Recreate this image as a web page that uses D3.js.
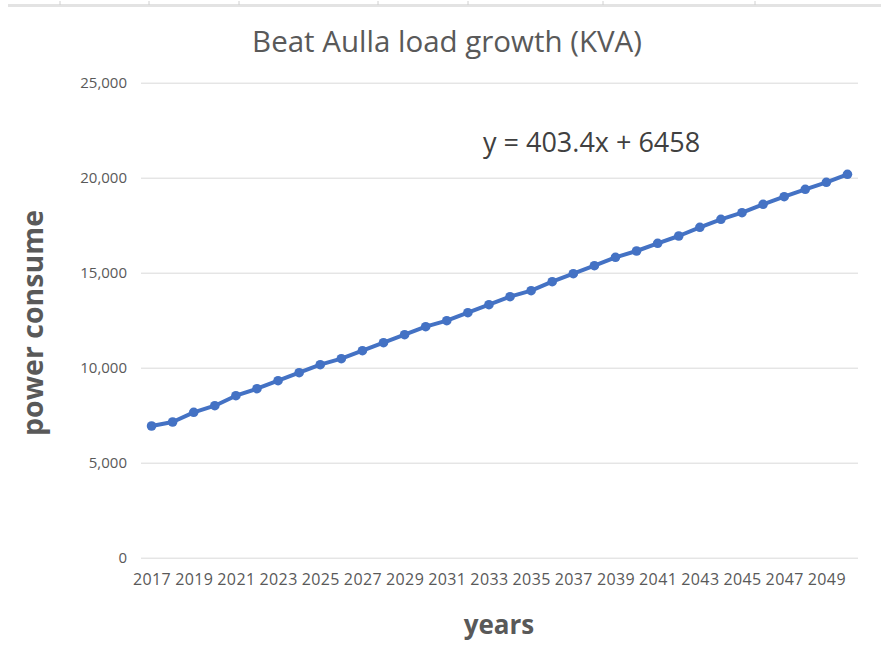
<!DOCTYPE html>
<html>
<head>
<meta charset="utf-8">
<script src="https://cdn.jsdelivr.net/npm/d3@7"></script>
<style>
  html, body { margin: 0; padding: 0; background: #fff; }
  svg { display: block; font-family: "Open Sans", "Noto Sans", sans-serif; }
</style>
</head>
<body>
<svg id="chart" width="881" height="662"></svg>
<script>
// Annual load (KVA) for the Beat Aulla feeder, 2017–2050
const years = d3.range(2017, 2051);
const load = [
  6931, 7142, 7652, 8000, 8526, 8895, 9316, 9737, 10158, 10474,
  10895, 11316, 11737, 12158, 12474, 12895, 13316, 13737, 14053, 14526,
  14947, 15368, 15810, 16142, 16547, 16931, 17389, 17810, 18158, 18600,
  19000, 19389, 19758, 20179
];
const yTicks = [0, 5000, 10000, 15000, 20000, 25000];
const xTickYears = years.filter((y, i) => i % 2 === 0);
const titleText = "Beat Aulla load growth (KVA)";
const trendText = "y = 403.4x + 6458";
const xTitle = "years";
const yTitle = "power consume";
const sheetColumnEdges = [60, 149, 239, 378, 468, 603, 755];

const svg = d3.select("#chart");
const plot = { left: 141, right: 858, top: 82.7, bottom: 557.7 };

// faint worksheet edge above the chart
svg.append("rect").attr("x", 8).attr("y", 4).attr("width", 873).attr("height", 3).attr("fill", "#e3e3e3");
svg.selectAll("line.col").data(sheetColumnEdges).join("line")
  .attr("x1", d => d).attr("x2", d => d).attr("y1", 1).attr("y2", 5)
  .attr("stroke", "#d0d0d0").attr("stroke-width", 1);

const x = d3.scalePoint().domain(years).range([plot.left, plot.right]).padding(0.5);
const y = d3.scaleLinear().domain([0, 25000]).range([plot.bottom, plot.top]);

// horizontal gridlines
svg.append("g").selectAll("line").data(yTicks).join("line")
  .attr("x1", plot.left).attr("x2", plot.right)
  .attr("y1", d => y(d) + 0.5).attr("y2", d => y(d) + 0.5)
  .attr("stroke", "#d9d9d9").attr("stroke-width", 1);

// y axis labels
const yAxis = d3.axisLeft(y).tickValues(yTicks).tickSize(0).tickPadding(0)
  .tickFormat(d3.format(","));
svg.append("g").attr("transform", `translate(127,0)`).call(yAxis)
  .call(g => g.select(".domain").remove())
  .call(g => g.selectAll("text").attr("fill", "#595959").attr("font-size", 15)
    .attr("font-family", "Open Sans, sans-serif"));

// x axis labels (every other year)
const xAxis = d3.axisBottom(x).tickValues(xTickYears).tickSize(0).tickPadding(0);
svg.append("g").attr("transform", `translate(0,${plot.bottom + 16})`).call(xAxis)
  .call(g => g.select(".domain").remove())
  .call(g => g.selectAll("text").attr("fill", "#595959").attr("font-size", 16)
    .attr("letter-spacing", "0.4px")
    .attr("font-family", "Open Sans, sans-serif"));

// load line with markers
const line = d3.line().x((d, i) => x(years[i])).y(d => y(d));
svg.append("path").datum(load).attr("d", line)
  .attr("fill", "none").attr("stroke", "#4472c4").attr("stroke-width", 4)
  .attr("stroke-linejoin", "round").attr("stroke-linecap", "round");
svg.append("g").selectAll("circle").data(load).join("circle")
  .attr("cx", (d, i) => x(years[i])).attr("cy", d => y(d)).attr("r", 4.8)
  .attr("fill", "#4472c4");

// title
svg.append("text").attr("x", 447).attr("y", 52).attr("text-anchor", "middle")
  .attr("font-size", 29.5).attr("fill", "#595959").text(titleText);

// trendline equation
svg.append("text").attr("x", 483).attr("y", 152).attr("text-anchor", "start")
  .attr("font-size", 27).attr("fill", "#404040").text(trendText);

// axis titles
svg.append("text").attr("x", 499).attr("y", 634).attr("text-anchor", "middle")
  .attr("font-size", 26).attr("font-weight", "bold").attr("fill", "#595959").text(xTitle);
svg.append("text").attr("transform", "translate(43,323) rotate(-90)")
  .attr("text-anchor", "middle")
  .attr("font-size", 28.5).attr("font-weight", "bold").attr("fill", "#595959").text(yTitle);
</script>
</body>
</html>
